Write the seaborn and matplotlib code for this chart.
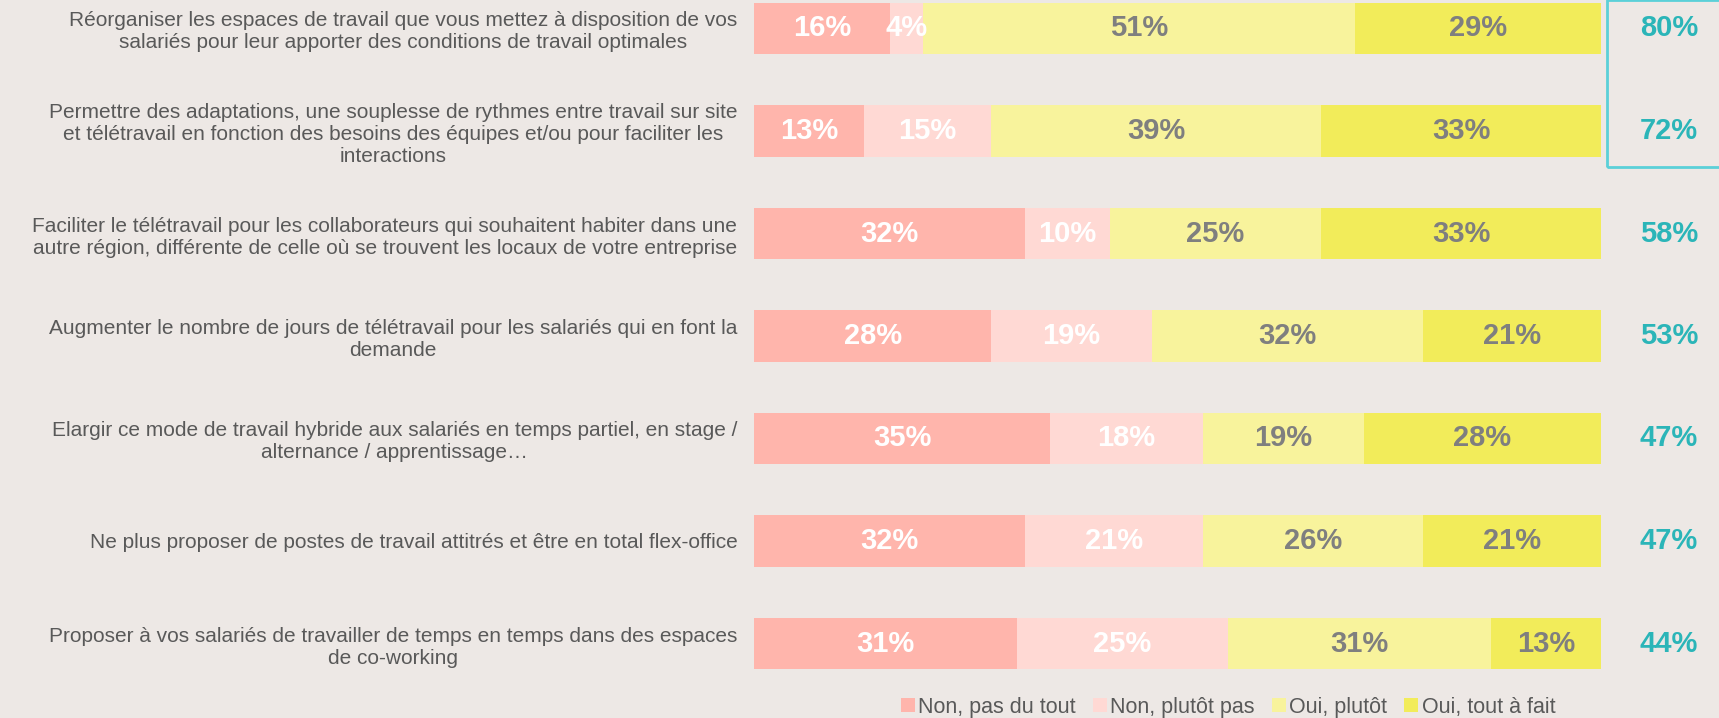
import numpy as np
import pandas as pd
import matplotlib
matplotlib.use("Agg")
import matplotlib.pyplot as plt
from matplotlib import font_manager
from matplotlib.patches import Rectangle, Patch
import seaborn as sns

categories = [
    "Réorganiser les espaces de travail que vous mettez à disposition de vos\nsalariés pour leur apporter des conditions de travail optimales",
    "Permettre des adaptations, une souplesse de rythmes entre travail sur site\net télétravail en fonction des besoins des équipes et/ou pour faciliter les\ninteractions",
    "Faciliter le télétravail pour les collaborateurs qui souhaitent habiter dans une\nautre région, différente de celle où se trouvent les locaux de votre entreprise",
    "Augmenter le nombre de jours de télétravail pour les salariés qui en font la\ndemande",
    "Elargir ce mode de travail hybride aux salariés en temps partiel, en stage /\nalternance / apprentissage…",
    "Ne plus proposer de postes de travail attitrés et être en total flex-office",
    "Proposer à vos salariés de travailler de temps en temps dans des espaces\nde co-working",
]
series_names = ["Non, pas du tout", "Non, plutôt pas", "Oui, plutôt", "Oui, tout à fait"]
non_pas_du_tout = [16, 13, 32, 28, 35, 32, 31]
non_plutot_pas = [4, 15, 10, 19, 18, 21, 25]
oui_plutot = [51, 39, 25, 32, 19, 26, 31]
oui_tout_a_fait = [29, 33, 33, 21, 28, 21, 13]
totals_oui = [80, 72, 58, 53, 47, 47, 44]

colors = ["#FFB5AC", "#FFD9D4", "#F8F39C", "#F2EC5A"]
text_colors = ["white", "white", "#7F7F7F", "#7F7F7F"]
bg = "#EDE8E5"

sns.set_theme(style="white")
avail = {f.name for f in font_manager.fontManager.ttflist}
narrow = "Liberation Sans Narrow" if "Liberation Sans Narrow" in avail else "Liberation Sans"
plt.rcParams["font.family"] = [narrow, "DejaVu Sans"]

W, H = 1719, 718
fig = plt.figure(figsize=(W / 100, H / 100), dpi=100, facecolor=bg)
row_px = 102.5
y0 = 28.5
top_lim = -y0 / row_px
bottom_px = y0 + 6.5 * row_px
ax = fig.add_axes([754 / W, (H - bottom_px) / H, (1601 - 754) / W, bottom_px / H])
ax.set_facecolor(bg)

vals = np.array([non_pas_du_tout, non_plutot_pas, oui_plutot, oui_tout_a_fait], dtype=float)
cum = vals.cumsum(axis=0)
df = pd.DataFrame({"cat": categories})
for i in range(3, -1, -1):
    df["v"] = cum[i]
    sns.barplot(data=df, x="v", y="cat", orient="h", color=colors[i], saturation=1,
                width=0.5, ax=ax, linewidth=0)

for i in range(4):
    for r in range(len(categories)):
        center = cum[i][r] - vals[i][r] / 2
        ax.text(center, r, f"{int(vals[i][r])}%", ha="center", va="center",
                color=text_colors[i], fontsize=21, fontweight="bold")

for r, t in enumerate(totals_oui):
    ax.text(108, r, f"{t}%", ha="center", va="center", color="#2BB5B8",
            fontsize=21, fontweight="bold", clip_on=False)

ax.set_xlim(0, 100)
ax.set_ylim(6.5, top_lim)
ax.set_xlabel("")
ax.set_ylabel("")
ax.set_xticks([])
for s in ax.spines.values():
    s.set_visible(False)
ax.tick_params(axis="y", length=0, pad=12, labelsize=15, labelcolor="#595959")
for lab in ax.get_yticklabels():
    lab.set_multialignment("center")
    lab.set_linespacing(1.2)
    lab.set_family(["Liberation Sans", "DejaVu Sans"])

fig.patches.append(Rectangle((1607 / W, (H - 167) / H), 0.2, 167 / H, transform=fig.transFigure,
                             fill=False, edgecolor="#5BD0D8", linewidth=2))

handles = [Patch(facecolor=c, edgecolor="none") for c in colors]
leg = fig.legend(handles, series_names, loc="center", bbox_to_anchor=(1228 / W, 1 - 707 / H),
                 ncol=4, frameon=False, handlelength=0.65, handleheight=0.65, handletextpad=0.15,
                 columnspacing=0.8, fontsize=15.5, borderpad=0.1)
for t in leg.get_texts():
    t.set_color("#595959")

fig.savefig("out.png", dpi=100, facecolor=bg)
